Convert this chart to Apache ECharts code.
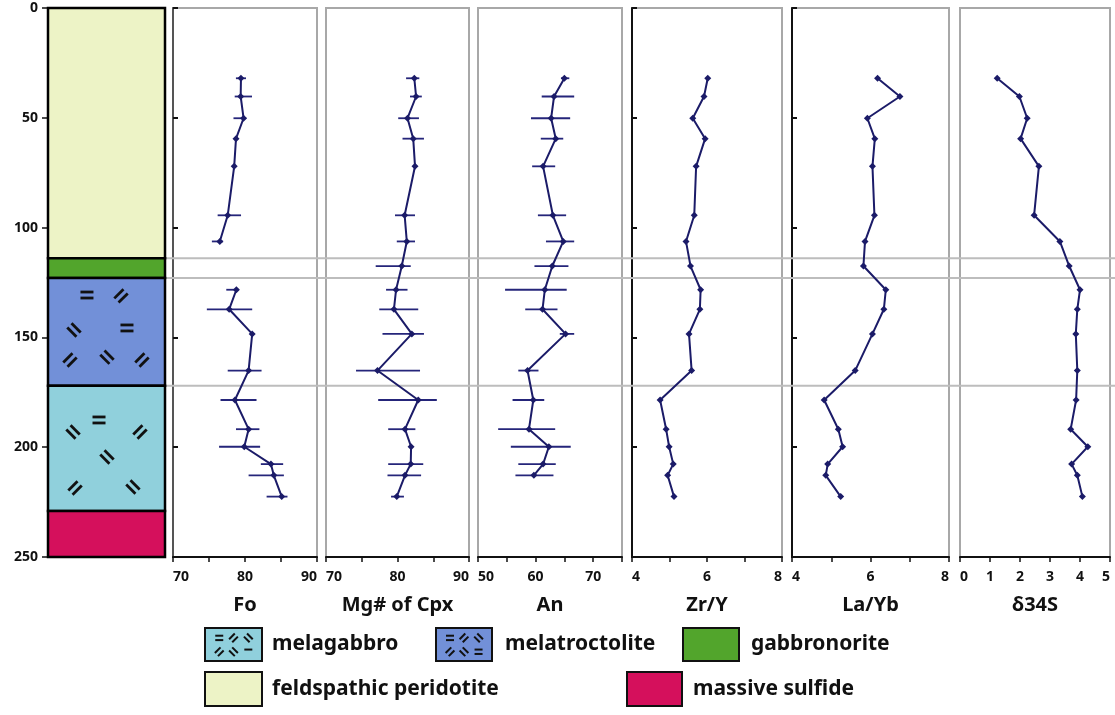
<!DOCTYPE html>
<html><head><meta charset="utf-8">
<script src="https://cdn.jsdelivr.net/npm/echarts@6/dist/echarts.min.js"></script>
<style>html,body{margin:0;padding:0;background:#fff}#c{width:1115px;height:715px}</style>
</head><body><div id="c"></div>
<script>
// ---------------- DATA ----------------
const depths = [32, 40.3, 50.2, 59.5, 72.1, 94.4, 106.3, 117.5, 128.3, 137.2, 148.4, 165.1, 178.5, 191.8, 199.8, 207.7, 212.8, 222.5];

const fo   = [79.44, 79.4, 79.8, 78.75, 78.5, 77.6, 76.5, null, 78.8, 77.8, 81.0, 80.5, 78.6, 80.5, 79.9, 83.6, 84.0, 85.1];
const foLo = [78.74, 78.57, 78.4, null, null, 76.2, 75.4, null, 77.4, 74.7, null, 77.6, 76.6, 78.75, 76.4, 82.2, 80.5, 83.0];
const foHi = [80.14, 80.97, 80.17, null, null, 79.45, 76.96, null, 79.1, 81.0, null, 82.3, 81.6, 82.0, 82.1, 85.3, 85.4, 85.9];

const mg   = [82.35, 82.6, 81.4, 82.2, 82.45, 81.0, 81.3, 80.6, 79.8, 79.5, 82.0, 77.2, 82.9, 81.05, 81.9, 81.85, 81.05, 79.9];
const mgLo = [81.2, 81.75, 80.1, 80.7, null, 79.65, 79.9, 76.95, 78.4, 77.45, 77.9, 74.2, 77.3, 78.7, null, 78.7, 78.6, 79.1];
const mgHi = [83.05, 83.4, 83.0, 83.7, null, 82.45, 82.45, 81.85, 81.4, 82.9, 83.7, 83.15, 85.5, 82.5, null, 83.6, 83.3, 80.9];

const an   = [65.0, 63.2, 62.7, 63.5, 61.3, 63.0, 64.8, 62.9, 61.6, 61.2, 65.2, 58.6, 59.6, 58.85, 62.3, 61.3, 59.7, null];
const anLo = [64.4, 61.06, 59.2, 60.9, 59.4, 60.4, 61.8, 59.8, 54.7, 58.2, 64.2, 57.0, 56.0, 53.5, 55.7, 57.0, 56.5, null];
const anHi = [65.85, 66.7, 66.0, 64.8, 63.4, 65.3, 66.7, 65.7, 65.4, 63.8, 66.7, 60.5, 61.5, 63.4, 66.1, 63.5, 63.1, null];

const zrY  = [6.02, 5.92, 5.62, 5.95, 5.71, 5.66, 5.44, 5.56, 5.83, 5.81, 5.52, 5.59, 4.75, 4.91, 4.99, 5.10, 4.95, 5.12];
const laYb = [6.18, 6.75, 5.92, 6.11, 6.05, 6.10, 5.86, 5.82, 6.39, 6.34, 6.05, 5.61, 4.82, 5.18, 5.29, 4.91, 4.86, 5.24];
const d34S = [1.24, 1.98, 2.24, 2.02, 2.63, 2.47, 3.33, 3.64, 4.0, 3.91, 3.86, 3.91, 3.87, 3.69, 4.26, 3.72, 3.91, 4.08];

const panelTitles = ['Fo', 'Mg# of Cpx', 'An', 'Zr/Y', 'La/Yb', 'δ34S'];
const panelMin = [70, 70, 50, 4, 4, 0];
const panelMax = [90, 90, 75, 8, 8, 5];
const panelTickStep = [5, 5, 5, 1, 1, 1];
const panelLabelStep = [10, 10, 10, 2, 2, 1];

const depthMax = 250;
const depthTickStep = 50;

// lithology column
const lithTop    = [0, 114, 123, 172, 229];
const lithBottom = [114, 123, 172, 229, 250];
const lithName   = ['feldspathic peridotite', 'gabbronorite', 'melatroctolite', 'melagabbro', 'massive sulfide'];
const contactDepths = [114, 123, 172];

// pattern glyphs inside column: [x fraction, depth, angle deg]
const glyphs = [
  [0.333, 130.7, 0], [0.624, 131.1, 45], [0.222, 146.6, -45], [0.675, 145.7, 0],
  [0.188, 160.3, 45], [0.504, 159.0, -45], [0.803, 160.3, 45],
  [0.436, 187.6, 0], [0.214, 193.1, -45], [0.786, 193.1, 45], [0.504, 204.5, -45],
  [0.231, 218.6, 45], [0.726, 218.1, -45]
];

// ---------------- STYLE / LAYOUT ----------------
const lithColor = ['#edf3c6', '#52a52c', '#7290d8', '#90d0dc', '#d5105c'];
const lineColor = '#1b1b68';
const errColor = '#25257a';
const FONT = '"Noto Sans", "Open Sans", sans-serif';
const TOP = 8, H = 549;
const lithLayout = [48, 117];
const panelLayout = [[173, 144], [326, 143], [478, 144], [632, 150], [792, 157], [960, 150]];
const panelYAxis = ['#555', null, null, '#111', '#111', null];
// legend layout: [lith index, swatch x, y, w, h, text x]
const legendLayout = [[3, 205, 628, 57, 33, 272], [2, 436, 628, 56, 33, 505], [1, 683, 628, 56, 33, 751],
                      [0, 205, 672, 57, 34, 272], [4, 627, 672, 55, 34, 693]];

const panelValues = [fo, mg, an, zrY, laYb, d34S];
const panelLo = [foLo, mgLo, anLo, null, null, null];
const panelHi = [foHi, mgHi, anHi, null, null, null];

const grids = [], xAxes = [], yAxes = [], series = [];

// grid 0 : lithology
grids.push({left: lithLayout[0], width: lithLayout[1], top: TOP, height: H, show: false});
xAxes.push({gridIndex: 0, type: 'value', min: 0, max: 1, show: false});
yAxes.push({gridIndex: 0, type: 'value', min: 0, max: depthMax, interval: depthTickStep, inverse: true,
  axisLine: {show: false}, splitLine: {show: false},
  axisTick: {show: true, length: 6, lineStyle: {color: '#111', width: 1.5}},
  axisLabel: {show: true, margin: 10, color: '#111', fontSize: 14, fontWeight: 'bold', fontFamily: FONT}});

series.push({type: 'custom', xAxisIndex: 0, yAxisIndex: 0, z: 2,
  data: lithTop.map((t, i) => [0, t, 1, lithBottom[i], i]),
  encode: {x: [0, 2], y: [1, 3]},
  renderItem(params, api) {
    const p0 = api.coord([api.value(0), api.value(1)]);
    const p1 = api.coord([api.value(2), api.value(3)]);
    return {type: 'rect', shape: {x: p0[0], y: p0[1], width: p1[0] - p0[0], height: p1[1] - p0[1]},
      style: {fill: lithColor[api.value(4)], stroke: '#000', lineWidth: 2.5}};
  }});

function glyph(x, y, angDeg, len, th, gap, single, z) {
  const ch = [{type: 'rect', z: z, shape: {x: -len / 2, y: -gap / 2 - th, width: len, height: th}, style: {fill: '#111'}}];
  if (!single) ch.push({type: 'rect', z: z, shape: {x: -len / 2, y: gap / 2, width: len, height: th}, style: {fill: '#111'}});
  return {type: 'group', x: x, y: y, rotation: angDeg * Math.PI / 180, children: ch};
}

series.push({type: 'custom', xAxisIndex: 0, yAxisIndex: 0, z: 3,
  data: glyphs, encode: {x: 0, y: 1},
  renderItem(params, api) {
    const p = api.coord([api.value(0), api.value(1)]);
    return glyph(p[0], p[1], api.value(2), 13, 2.8, 3.2);
  }});

// panels
panelTitles.forEach((title, k) => {
  const gi = k + 1;
  const [left, width] = panelLayout[k];
  grids.push({left: left, width: width, top: TOP, height: H, show: true, borderColor: '#a8a8a8', borderWidth: 2});
  const mn = panelMin[k], ls = panelLabelStep[k];
  xAxes.push({gridIndex: gi, type: 'value', position: 'bottom', min: mn, max: panelMax[k], interval: panelTickStep[k],
    axisLine: {show: true, onZero: false, lineStyle: {color: '#111', width: 2}},
    axisTick: {show: true, length: 5, lineStyle: {color: '#111', width: 1.5}},
    splitLine: {show: false},
    axisLabel: {show: true, margin: 13, color: '#111', fontSize: 14, fontWeight: 'bold', fontFamily: FONT,
      alignMinLabel: 'left', alignMaxLabel: 'right',
      formatter: v => (Math.abs(((v - mn) / ls) - Math.round((v - mn) / ls)) < 1e-6 ? String(v) : '')},
    name: title, nameLocation: 'middle', nameGap: 38,
    nameTextStyle: {color: '#111', fontSize: 20, fontWeight: 'bold', fontFamily: FONT}});
  const yc = panelYAxis[k];
  yAxes.push({gridIndex: gi, type: 'value', min: 0, max: depthMax, interval: depthTickStep, inverse: true,
    axisLine: {show: !!yc, lineStyle: {color: yc || '#000', width: 2}},
    axisTick: {show: !!yc, inside: true, length: 5, lineStyle: {color: '#111', width: 2}},
    axisLabel: {show: false}, splitLine: {show: false}});

  const vals = panelValues[k];
  series.push({type: 'line', xAxisIndex: gi, yAxisIndex: gi, z: 5,
    data: vals.map((v, i) => v === null ? ['-', '-'] : [v, depths[i]]),
    connectNulls: false,
    symbol: 'diamond', symbolSize: 7, showSymbol: true,
    lineStyle: {color: lineColor, width: 2}, itemStyle: {color: lineColor},
    animation: false});

  if (panelLo[k]) {
    const lo = panelLo[k], hi = panelHi[k];
    const ed = [];
    lo.forEach((l, i) => { if (l !== null && hi[i] !== null) ed.push([l, hi[i], depths[i]]); });
    series.push({type: 'custom', xAxisIndex: gi, yAxisIndex: gi, z: 4, data: ed,
      encode: {x: [0, 1], y: 2},
      renderItem(params, api) {
        const a = api.coord([api.value(0), api.value(2)]);
        const b = api.coord([api.value(1), api.value(2)]);
        return {type: 'line', shape: {x1: a[0], y1: a[1], x2: b[0], y2: b[1]},
          style: {stroke: errColor, lineWidth: 1.8}};
      }});
  }
});

// overlay grid for contact lines
const og = grids.length;
grids.push({left: lithLayout[0] + lithLayout[1], right: 0, top: TOP, height: H, show: false});
xAxes.push({gridIndex: og, type: 'value', min: 0, max: 1, show: false});
yAxes.push({gridIndex: og, type: 'value', min: 0, max: depthMax, inverse: true, show: false});
series.push({type: 'custom', xAxisIndex: og, yAxisIndex: og, z: 1,
  data: contactDepths.map(d => [0, d, 1, d]), encode: {x: [0, 2], y: [1, 3]},
  renderItem(params, api) {
    const a = api.coord([api.value(0), api.value(1)]);
    const b = api.coord([api.value(2), api.value(3)]);
    return {type: 'line', shape: {x1: a[0], y1: a[1], x2: b[0], y2: b[1]},
      style: {stroke: '#bdbdbd', lineWidth: 2}};
  }});

// legend (graphic)
const gfx = [];
const miniPatterns = {
  3: [[0.25, 0.3, 0, false], [0.5, 0.3, 45, false], [0.76, 0.3, -45, false], [0.25, 0.72, 45, false], [0.5, 0.72, -45, false], [0.76, 0.72, 0, true]],
  2: [[0.25, 0.3, 0, false], [0.5, 0.3, 45, false], [0.76, 0.3, -45, false], [0.25, 0.72, 45, false], [0.5, 0.72, -45, false], [0.76, 0.72, 0, false]]
};
legendLayout.forEach(([li, x, y, w, h, tx]) => {
  gfx.push({type: 'rect', shape: {x: x, y: y, width: w, height: h},
    style: {fill: lithColor[li], stroke: '#111', lineWidth: 2}, z: 10});
  (miniPatterns[li] || []).forEach(([fx, fy, a, s]) => {
    const g = glyph(x + fx * w, y + fy * h, a, 8, 2, 2.4, s, 12);
    g.z = 12; gfx.push(g);
  });
  gfx.push({type: 'text', x: tx, y: y + h / 2, z: 11,
    style: {text: lithName[li], fill: '#111', font: 'bold 21px ' + FONT,
      textVerticalAlign: 'middle', verticalAlign: 'middle'}});
});

const chart = echarts.init(document.getElementById('c'), null, {renderer: 'canvas'});
chart.setOption({
  animation: false,
  backgroundColor: '#fff',
  grid: grids, xAxis: xAxes, yAxis: yAxes, series: series,
  graphic: {elements: gfx}
});
</script>
</body></html>
